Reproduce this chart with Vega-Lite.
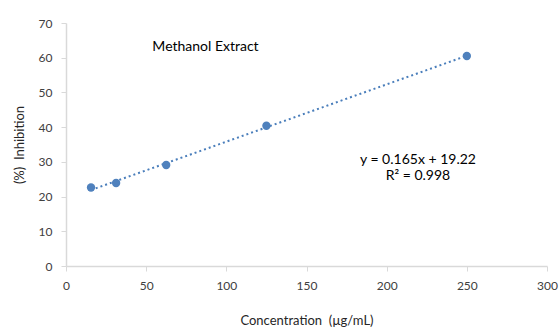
{
  "$schema": "https://vega.github.io/schema/vega-lite/v6.json",
  "autosize": "none",
  "width": 481,
  "height": 243,
  "padding": {"left": 66, "top": 23, "right": 12, "bottom": 63},
  "background": "white",
  "config": {
    "view": {"stroke": null},
    "font": "Lato",
    "axis": {
      "grid": false,
      "domainColor": "#d9d9d9",
      "domainWidth": 1.5,
      "tickColor": "#d9d9d9",
      "tickSize": 5,
      "labelColor": "#404040",
      "labelFont": "Lato",
      "labelFontSize": 12,
      "labelFlush": false,
      "labelOverlap": false,
      "titleFont": "Lato",
      "titleFontSize": 13,
      "titleFontWeight": "normal",
      "titleColor": "#262626"
    }
  },
  "data": {
    "values": [
      {"conc": 15.6, "inh": 22.6},
      {"conc": 31.25, "inh": 23.9},
      {"conc": 62.5, "inh": 29.1},
      {"conc": 125, "inh": 40.4},
      {"conc": 250, "inh": 60.5}
    ]
  },
  "encoding": {
    "x": {"field": "conc", "type": "quantitative", "scale": {"domain": [0, 300]},
      "axis": {"values": [0, 50, 100, 150, 200, 250, 300], "title": "Concentration \u00a0(µg/mL)", "titlePadding": 23, "labelPadding": 9}},
    "y": {"field": "inh", "type": "quantitative", "scale": {"domain": [0, 70]},
      "axis": {"values": [0, 10, 20, 30, 40, 50, 60, 70], "title": "(%) \u00a0Inhibition", "titlePadding": 12, "labelPadding": 9}}
  },
  "layer": [
    {
      "transform": [{"regression": "inh", "on": "conc", "extent": [15.6, 250]}],
      "mark": {"type": "line", "color": "#4a7ebb", "strokeWidth": 2, "strokeDash": [2, 3]}
    },
    {
      "mark": {"type": "circle", "color": "#4f81bd", "opacity": 1, "size": 70}
    },
    {
      "data": {
        "values": [
          {"conc": 87, "inh": 63.1, "label": "Methanol Extract"},
          {"conc": 219.5, "inh": 30.5, "label": "y = 0.165x + 19.22"},
          {"conc": 219.5, "inh": 25.9, "label": "R² = 0.998"}
        ]
      },
      "mark": {"type": "text", "font": "Lato", "fontSize": 14, "color": "#000000", "align": "center", "baseline": "middle"},
      "encoding": {
        "text": {"field": "label"}
      }
    }
  ]
}
